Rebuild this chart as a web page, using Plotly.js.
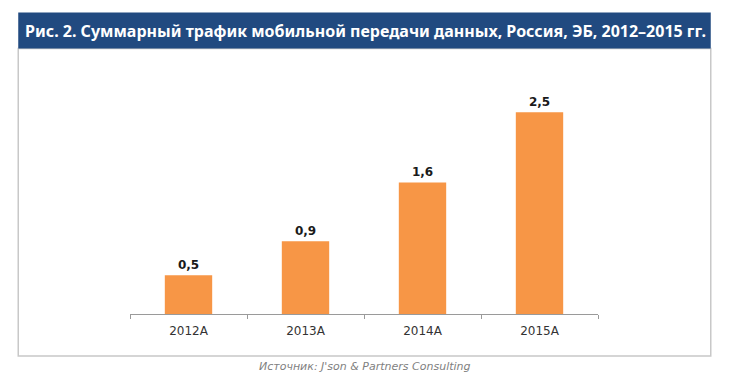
<!DOCTYPE html>
<html><head><meta charset="utf-8">
<script src="https://cdn.plot.ly/plotly-3.0.1.min.js"></script>
<style>html,body{margin:0;padding:0;background:#fff;}</style>
</head><body>
<div id="chart" style="width:729px;height:391px;"></div>
<script>
const categories = ["2012A", "2013A", "2014A", "2015A"];
const values = [0.48, 0.9, 1.63, 2.5];
const labels = ["0,5", "0,9", "1,6", "2,5"];
const titleText = "Рис. 2. Суммарный трафик мобильной передачи данных, Россия, ЭБ, 2012–2015 гг.";
const sourceText = "Источник: J'son & Partners Consulting";

// pixel -> paper helpers (plot area: x 129.5..598.5, y 88..314)
const L = 129.5, R = 598.5, T = 88, B = 314;
const px = v => (v - L) / (R - L);
const py = v => (B - v) / (B - T);

const trace = {
  type: "bar",
  x: categories,
  y: values,
  text: labels,
  texttemplate: "%{text}",
  textposition: "outside",
  cliponaxis: false,
  textfont: {family: "DejaVu Sans, Verdana, sans-serif", size: 12, color: "#1a1a1a", weight: "bold"},
  marker: {color: "#f79646"},
  hoverinfo: "none"
};

const layout = {
  width: 729, height: 391,
  margin: {l: L, r: 729 - R, t: T, b: 391 - B},
  paper_bgcolor: "#ffffff", plot_bgcolor: "#ffffff",
  showlegend: false,
  bargap: 0.595,
  xaxis: {
    type: "category",
    showline: true, linecolor: "#9a9a9a", linewidth: 1,
    ticks: "outside", tickson: "boundaries", ticklen: 4, tickcolor: "#9a9a9a",
    ticklabelstandoff: 6,
    tickfont: {family: "DejaVu Sans, Verdana, sans-serif", size: 12, color: "#333333"},
    showgrid: false, zeroline: false, fixedrange: true
  },
  yaxis: {
    range: [0, 2.8], visible: false, showgrid: false, zeroline: false, fixedrange: true
  },
  shapes: [
    {type: "rect", xref: "paper", yref: "paper", x0: px(17.5), x1: px(711.5), y0: py(356), y1: py(48.5),
     line: {color: "#c8c8c8", width: 1.5}, fillcolor: "rgba(0,0,0,0)", layer: "below"},
    {type: "rect", xref: "paper", yref: "paper", x0: px(17.5), x1: px(711.5), y0: py(48.5), y1: py(12.5),
     line: {width: 0}, fillcolor: "#214a80", layer: "below"}
  ],
  annotations: [
    {text: "<b>" + titleText + "</b>", xref: "paper", yref: "paper", x: px(365.5), y: py(30.5),
     xanchor: "center", yanchor: "middle", showarrow: false,
     font: {family: "Noto Sans, DejaVu Sans, sans-serif", size: 16, color: "#ffffff"}},
    {text: "<i>" + sourceText + "</i>", xref: "paper", yref: "paper", x: px(365), y: py(366),
     xanchor: "center", yanchor: "middle", showarrow: false,
     font: {family: "DejaVu Sans, Verdana, sans-serif", size: 11, color: "#7f7f7f"}}
  ]
};

Plotly.newPlot("chart", [trace], layout, {displayModeBar: false, staticPlot: true});
</script>
</body></html>
